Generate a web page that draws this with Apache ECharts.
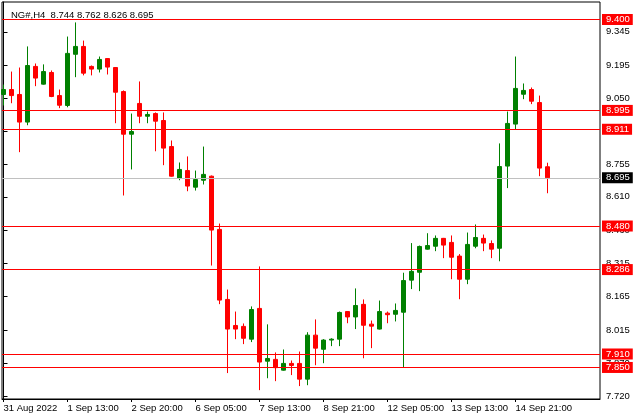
<!DOCTYPE html>
<html>
<head>
<meta charset="utf-8">
<script src="https://cdn.jsdelivr.net/npm/echarts@6/dist/echarts.min.js"></script>
<style>
html,body{margin:0;padding:0;background:#fff;}
#c{width:640px;height:420px;}
</style>
</head>
<body>
<div id="c"></div>
<script>
const titleText = 'NG#,H4  8.744 8.762 8.626 8.695';

const opens = [9.066,9.088,9.066,8.943,9.191,9.112,9.164,9.061,9.017,9.245,
  9.280,9.191,9.179,9.226,9.186,9.079,8.889,9.026,8.969,8.981,
  8.950,8.834,8.693,8.727,8.653,8.684,8.702,8.465,8.153,8.037,
  8.033,7.976,8.113,7.878,7.886,7.838,7.868,7.868,7.798,7.994,
  7.931,7.972,7.976,8.099,8.075,8.131,8.043,8.021,8.092,8.087,
  8.096,8.239,8.274,8.377,8.390,8.425,8.407,8.346,8.243,8.390,
  8.425,8.402,8.381,8.747,8.934,9.067,9.088,9.030,8.744];

const closes = [9.088,9.061,8.943,9.195,9.139,9.168,9.057,9.018,9.249,9.280,
  9.161,9.179,9.222,9.188,9.076,8.889,8.901,8.969,8.977,8.947,
  8.827,8.702,8.732,8.658,8.687,8.710,8.462,8.150,8.021,8.021,
  7.980,8.108,7.874,7.890,7.849,7.868,7.859,7.798,7.994,7.936,
  7.972,7.976,8.095,8.075,8.126,8.038,8.034,8.099,8.085,8.104,
  8.237,8.278,8.389,8.393,8.425,8.395,8.341,8.243,8.398,8.429,
  8.404,8.377,8.745,8.937,9.093,9.084,9.036,8.738,8.695];

const lows = [9.017,9.027,8.809,8.929,9.103,9.110,9.054,9.005,9.009,9.143,
  9.151,9.151,9.164,9.155,8.938,8.616,8.732,8.938,8.938,8.813,
  8.751,8.700,8.684,8.635,8.638,8.665,8.304,8.132,7.825,7.976,
  7.954,7.963,7.749,7.802,7.789,7.836,7.816,7.767,7.771,7.860,
  7.869,7.945,7.945,8.047,8.021,7.891,7.936,8.019,8.047,8.055,
  7.849,8.199,8.190,8.375,8.368,8.337,8.243,8.154,8.221,8.381,
  8.368,8.337,8.323,8.649,8.911,9.045,9.023,8.702,8.626];

const highs = [9.110,9.168,9.186,9.280,9.204,9.200,9.173,9.088,9.324,9.387,
  9.306,9.195,9.235,9.228,9.188,9.084,8.981,9.124,8.990,8.986,
  8.986,8.861,8.763,8.790,8.727,8.834,8.705,8.491,8.197,8.099,
  8.046,8.122,8.300,8.042,7.917,7.930,7.881,7.921,8.007,8.064,
  7.976,7.980,8.099,8.101,8.202,8.153,8.059,8.148,8.099,8.135,
  8.272,8.404,8.393,8.448,8.438,8.427,8.438,8.355,8.451,8.487,
  8.442,8.416,8.848,8.990,9.235,9.115,9.097,9.061,8.762];

const xTickPos = [0, 8, 16, 24, 32, 40, 48, 56, 64];
const xTickLabels = ['31 Aug 2022','1 Sep 13:00','2 Sep 20:00','6 Sep 05:00','7 Sep 13:00','8 Sep 21:00','12 Sep 05:00','13 Sep 13:00','14 Sep 21:00'];

const yTicks = [9.345, 9.195, 9.050, 8.900, 8.755, 8.610, 8.460, 8.315, 8.165, 8.015, 7.870, 7.720];

const levels = [9.400, 8.995, 8.911, 8.480, 8.286, 7.910, 7.850];
const currentPrice = 8.695;

const FONT = 'Liberation Sans, Arial, sans-serif';
const FS = 9.5;

const candleData = opens.map((o, i) => [i, o, closes[i], lows[i], highs[i]]);

const lineLabel = (bg) => ({
  show: true,
  position: 'end',
  distance: 2,
  formatter: (p) => Number(p.value).toFixed(3),
  color: '#fff',
  backgroundColor: bg,
  fontFamily: FONT,
  fontSize: FS,
  lineHeight: 11,
  padding: [0, 3, 0, 4]
});

const markData = [{
  yAxis: currentPrice,
  lineStyle: { color: '#c0c0c0', width: 1, type: 'solid', opacity: 1 },
  label: lineLabel('#000000')
}].concat(levels.map(v => ({
  yAxis: v,
  lineStyle: { color: '#ff0000', width: 1, type: 'solid', opacity: 1 },
  label: lineLabel('#ff0000')
})));

const chart = echarts.init(document.getElementById('c'), null, { renderer: 'canvas' });
chart.setOption({
  animation: false,
  backgroundColor: '#fff',
  title: {
    text: titleText,
    left: 6,
    top: 5,
    textStyle: { fontFamily: FONT, fontSize: 9.5, fontWeight: 'normal', color: '#000' }
  },
  grid: {
    left: 2, right: 40, top: 2, bottom: 21,
    show: true, borderColor: '#000', borderWidth: 1, backgroundColor: 'transparent'
  },
  xAxis: {
    type: 'value',
    min: -0.1875,
    max: 74.5625,
    axisLine: { show: true, lineStyle: { color: '#000', width: 1 } },
    axisTick: { show: true, customValues: xTickPos, length: 3, lineStyle: { color: '#000' } },
    axisLabel: {
      show: true,
      customValues: xTickPos,
      formatter: (v) => { const k = xTickPos.indexOf(Math.round(v)); return k >= 0 ? xTickLabels[k] : ''; },
      align: 'left',
      margin: 4,
      color: '#000',
      fontFamily: FONT,
      fontSize: FS
    },
    splitLine: { show: false }
  },
  yAxis: {
    type: 'value',
    position: 'right',
    min: 7.7095,
    max: 9.4779,
    scale: true,
    axisLine: { show: true, lineStyle: { color: '#000', width: 1 } },
    axisTick: { show: true, customValues: yTicks, length: 4, lineStyle: { color: '#000' } },
    axisLabel: {
      show: true,
      customValues: yTicks,
      formatter: (v) => Number(v).toFixed(3),
      margin: 6,
      color: '#000',
      fontFamily: FONT,
      fontSize: FS
    },
    splitLine: { show: false }
  },
  series: [{
    type: 'candlestick',
    data: candleData,
    encode: { x: 0, y: [1, 2, 3, 4] },
    barWidth: 4,
    itemStyle: {
      color: '#008000',
      color0: '#ff0000',
      borderColor: '#008000',
      borderColor0: '#ff0000',
      borderWidth: 1
    },
    markLine: {
      silent: true,
      precision: 3,
      symbol: ['none', 'none'],
      animation: false,
      lineStyle: { color: '#ff0000', width: 1, type: 'solid' },
      data: markData
    }
  }]
});
</script>
</body>
</html>
